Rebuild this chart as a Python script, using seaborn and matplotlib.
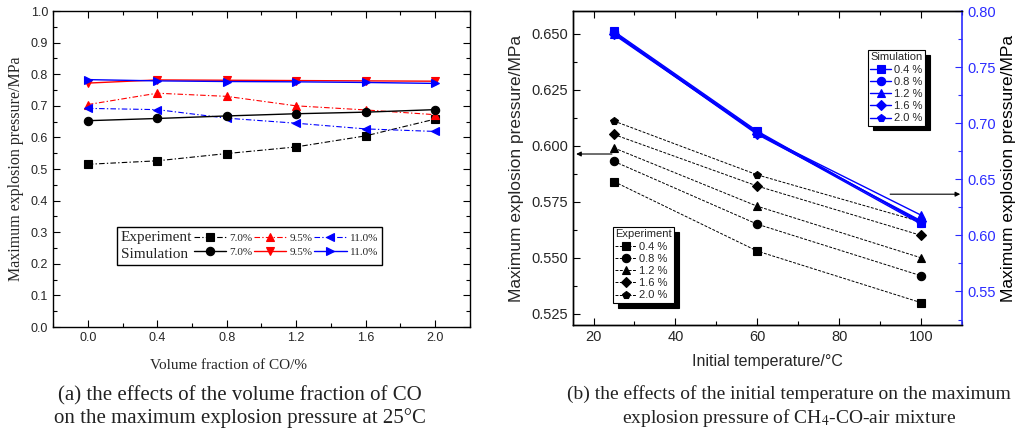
import numpy as np
import pandas as pd
import matplotlib
matplotlib.use("Agg")
import matplotlib.pyplot as plt
import seaborn as sns
from matplotlib.lines import Line2D
from matplotlib.ticker import MultipleLocator, FormatStrFormatter

# ---------------- data: panel (a) ----------------
co_fraction = [0.0, 0.4, 0.8, 1.2, 1.6, 2.0]
exp_7_0 = [0.515, 0.526, 0.549, 0.570, 0.605, 0.658]
exp_9_5 = [0.704, 0.740, 0.730, 0.700, 0.687, 0.672]
exp_11_0 = [0.692, 0.688, 0.661, 0.645, 0.627, 0.619]
sim_7_0 = [0.653, 0.660, 0.668, 0.675, 0.680, 0.688]
sim_9_5 = [0.772, 0.782, 0.781, 0.780, 0.779, 0.778]
sim_11_0 = [0.783, 0.779, 0.777, 0.776, 0.774, 0.771]
methane_labels = ["7.0%", "9.5%", "11.0%"]

# ---------------- data: panel (b) ----------------
temperature = [25, 60, 100]
co_labels = ["0.4 %", "0.8 %", "1.2 %", "1.6 %", "2.0 %"]
exp_co_0_4 = [0.584, 0.553, 0.530]
exp_co_0_8 = [0.593, 0.565, 0.542]
exp_co_1_2 = [0.599, 0.573, 0.550]
exp_co_1_6 = [0.605, 0.582, 0.560]
exp_co_2_0 = [0.611, 0.587, 0.566]
sim_co_0_4 = [0.782, 0.693, 0.611]
sim_co_0_8 = [0.781, 0.692, 0.612]
sim_co_1_2 = [0.780, 0.691, 0.618]
sim_co_1_6 = [0.780, 0.690, 0.613]
sim_co_2_0 = [0.779, 0.691, 0.610]

caption_a = "(a) the effects of the volume fraction of CO\non the maximum explosion pressure at 25°C"
caption_b = "(b) the effects of the initial temperature on the maximum\nexplosion pressure of CH$_4$-CO-air mixture"

sns.set_theme(style="ticks")
plt.rcParams["font.family"] = ["Liberation Sans", "DejaVu Sans"]
plt.rcParams["mathtext.fontset"] = "stix"
plt.rcParams["axes.linewidth"] = 1.0

SERIF = "Liberation Serif"
SANS = "Liberation Sans"
RED = "#ff0000"
BLUE = "#0000ff"
AXBLUE = "#2b2bff"

fig = plt.figure(figsize=(10.24, 4.37), dpi=100)
ax1 = fig.add_axes([0.0518, 0.2517, 0.407, 0.723])
ax2 = fig.add_axes([0.5596, 0.256, 0.380, 0.7185])
ax3 = ax2.twinx()


def draw(ax, x, y, color, marker, ls, lw=1.0, ms=6):
    df = pd.DataFrame({"x": x, "y": y})
    sns.lineplot(data=df, x="x", y="y", ax=ax, color=color, marker=marker,
                 linestyle=ls, linewidth=lw, markersize=ms,
                 markeredgecolor=color, markerfacecolor=color,
                 markeredgewidth=0.8, sort=False, errorbar=None)
    return ax.lines[-1]


# ---------------- panel (a) ----------------
dashdot = (0, (5, 2, 1.2, 2))
h_e7 = draw(ax1, co_fraction, exp_7_0, "black", "s", dashdot, 0.8)
h_e95 = draw(ax1, co_fraction, exp_9_5, RED, "^", dashdot, 0.8)
h_e11 = draw(ax1, co_fraction, exp_11_0, BLUE, "<", dashdot, 0.8)
h_s7 = draw(ax1, co_fraction, sim_7_0, "black", "o", "-", 1.0)
h_s95 = draw(ax1, co_fraction, sim_9_5, RED, "v", "-", 1.0)
h_s11 = draw(ax1, co_fraction, sim_11_0, BLUE, ">", "-", 1.0)

ax1.set_xlim(-0.2, 2.2)
ax1.set_ylim(0.0, 1.0)
ax1.xaxis.set_major_locator(MultipleLocator(0.4))
ax1.xaxis.set_minor_locator(MultipleLocator(0.2))
ax1.yaxis.set_major_locator(MultipleLocator(0.1))
ax1.yaxis.set_minor_locator(MultipleLocator(0.05))
ax1.xaxis.set_major_formatter(FormatStrFormatter("%.1f"))
ax1.yaxis.set_major_formatter(FormatStrFormatter("%.1f"))
ax1.tick_params(which="both", direction="in", top=True, right=True,
                labelsize=9, width=0.8, color="black")
ax1.tick_params(which="major", length=5)
ax1.tick_params(which="minor", length=3)
for sp in ax1.spines.values():
    sp.set_color("black")
    sp.set_linewidth(1.0)
ax1.set_xlabel("Volume fraction of CO/%", family=SERIF, fontsize=11)
ax1.xaxis.set_label_coords(0.42, -0.10)
ax1.set_ylabel("Maximum explosion pressure/MPa", family=SERIF, fontsize=11.5, labelpad=5)

blank1 = Line2D([], [], linestyle="none")
blank2 = Line2D([], [], linestyle="none")
leg1 = ax1.legend([blank1, blank2, h_e7, h_s7, h_e95, h_s95, h_e11, h_s11],
                  ["Experiment", "Simulation"] + [m for m in methane_labels for _ in range(2)],
                  ncol=4, loc="upper left", bbox_to_anchor=(0.153, 0.316),
                  borderaxespad=0, prop={"family": SERIF, "size": 8},
                  handlelength=2.9, handletextpad=0.3, columnspacing=0.15,
                  labelspacing=0.35, borderpad=0.35, frameon=True, fancybox=False,
                  edgecolor="black", framealpha=1)
leg1.get_frame().set_linewidth(1.0)
for t in leg1.get_texts()[:2]:
    t.set_fontsize(11)
try:
    col0 = leg1._legend_handle_box.get_children()[0]
    for row in col0.get_children():
        row.get_children()[0].width = 0
        row.sep = 0
except Exception:
    pass

# ---------------- panel (b) ----------------
markers_b = ["s", "o", "^", "D", "p"]
exp_series = [exp_co_0_4, exp_co_0_8, exp_co_1_2, exp_co_1_6, exp_co_2_0]
sim_series = [sim_co_0_4, sim_co_0_8, sim_co_1_2, sim_co_1_6, sim_co_2_0]
exp_handles, sim_handles = [], []
for vals, mk in zip(exp_series, markers_b):
    ms = 5 if mk == "D" else 6
    exp_handles.append(draw(ax2, temperature, vals, "black", mk, (0, (3, 1.5)), 0.7, ms))
for vals, mk in zip(sim_series, markers_b):
    ms = 5 if mk == "D" else 6
    sim_handles.append(draw(ax3, temperature, vals, BLUE, mk, "-", 1.0, ms))

ax2.set_xlim(15, 110)
ax2.set_ylim(0.52, 0.66)
ax3.set_ylim(0.52, 0.80)
ax2.xaxis.set_major_locator(MultipleLocator(20))
ax2.xaxis.set_minor_locator(MultipleLocator(10))
ax2.yaxis.set_major_locator(MultipleLocator(0.025))
ax2.yaxis.set_minor_locator(MultipleLocator(0.0125))
ax2.yaxis.set_major_formatter(FormatStrFormatter("%.3f"))
ax3.yaxis.set_major_locator(MultipleLocator(0.05))
ax3.yaxis.set_minor_locator(MultipleLocator(0.025))
ax3.yaxis.set_major_formatter(FormatStrFormatter("%.2f"))
ax2.tick_params(which="both", direction="in", top=True, right=False,
                labelsize=10.5, width=0.8, color="black")
ax2.tick_params(which="major", length=5)
ax2.tick_params(which="minor", length=3)
ax3.tick_params(axis="y", which="both", direction="in", right=True, left=False,
                labelsize=10.5, width=0.8, color=AXBLUE, labelcolor=AXBLUE)
ax3.tick_params(which="major", length=5)
ax3.tick_params(which="minor", length=3)
for sp in ax2.spines.values():
    sp.set_color("black")
    sp.set_linewidth(1.0)
for sp in ax3.spines.values():
    sp.set_color("black")
    sp.set_linewidth(1.0)
ax3.spines["right"].set_color(AXBLUE)
ax3.spines["right"].set_linewidth(1.2)
ax2.spines["right"].set_visible(False)

ax2.set_xlabel("Initial temperature/°C", family=SANS, fontsize=11.5, labelpad=7)
ax2.set_ylabel("Maximum explosion pressure/MPa", family=SANS, fontsize=12.5, labelpad=5)
ax3.set_ylabel("Maximum explosion pressure/MPa", family=SANS, fontsize=12.5, labelpad=4,
               color="black")

shadow = {"ox": 3.5, "oy": -3.5, "facecolor": "black", "edgecolor": "black", "alpha": 1}
legend_kw = dict(loc="upper left", borderaxespad=0,
                 prop={"family": SANS, "size": 8}, title_fontsize=8,
                 handlelength=1.9, handletextpad=0.25, labelspacing=0.2,
                 borderpad=0.2, frameon=True, fancybox=False, edgecolor="black",
                 framealpha=1, alignment="left", shadow=shadow)
leg_e = ax2.legend(exp_handles, co_labels, title="Experiment",
                   bbox_to_anchor=(0.103, 0.312), **legend_kw)
leg_e.get_frame().set_linewidth(0.8)
leg_s = ax3.legend(sim_handles, co_labels, title="Simulation",
                   bbox_to_anchor=(0.758, 0.876), **legend_kw)
leg_s.get_frame().set_linewidth(0.8)

# pointer arrows indicating which axis each group belongs to
arrow = dict(arrowstyle="-|>", color="black", lw=0.8, mutation_scale=7, shrinkA=0, shrinkB=0)
ax2.annotate("", xy=(0.008, 0.545), xytext=(0.100, 0.545), xycoords="axes fraction",
             textcoords="axes fraction", arrowprops=arrow)
ax2.annotate("", xy=(0.995, 0.417), xytext=(0.815, 0.417), xycoords="axes fraction",
             textcoords="axes fraction", arrowprops=arrow)

# ---------------- captions ----------------
fig.text(240 / 1024, 1 - 407 / 437, caption_a, ha="center", va="center",
         family=SERIF, fontsize=15, linespacing=1.15, color="#222222")
fig.text(789 / 1024, 1 - 407 / 437, caption_b, ha="center", va="center",
         family=SERIF, fontsize=14, linespacing=1.22, color="#222222")

fig.savefig("out.png", dpi=100)
